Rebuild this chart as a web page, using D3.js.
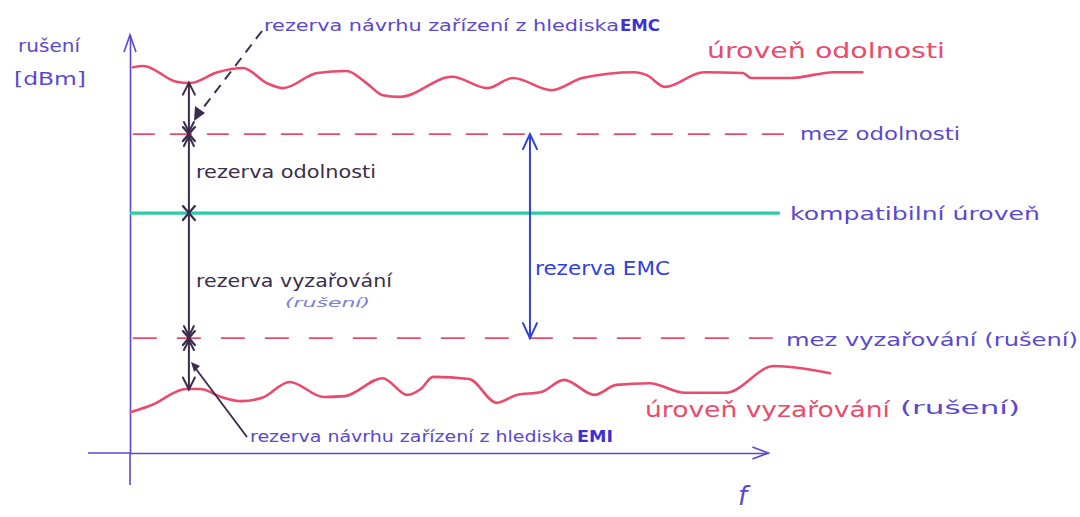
<!DOCTYPE html>
<html><head><meta charset="utf-8">
<script src="https://cdn.jsdelivr.net/npm/d3@7"></script>
<style>body{margin:0;background:#fff}svg{display:block}</style>
</head><body>
<svg id="c" width="1080" height="517"></svg>
<script>
// ---- data (frequency in arbitrary units, level in arbitrary dB units) ----
const immunityF  = [0.3,1.4,4.9,6.3,9.2,11.9,14.4,16.1,19.7,22.8,24.9,26.6,28.4,33.9,37.6,40.3,44.4,47.6,53.1,54.4,56.3,60.4,64.5,65.4,69.5,74.1,77.1];
const immunityDb = [92.3,92.6,88.8,88.5,91.1,92.1,88.5,87.3,90.9,91.4,88.5,85.6,85.2,90.0,87.3,89.7,86.8,89.7,91.1,90.4,87.6,91.1,90.9,89.7,89.7,91.1,91.1];
const emissionF  = [0.1,2.3,5.9,7.4,9.6,11.7,13.9,16.8,20.4,22.6,26.6,29.2,30.6,31.9,35.7,38.6,40.7,43.3,45.7,48.9,51.2,54.7,58.4,62.7,67.8,73.7];
const emissionDb = [9.8,11.5,15.3,15.3,13.4,12.4,13.2,17.0,13.4,13.6,17.9,13.9,15.3,18.2,17.7,12.0,13.9,14.6,17.5,13.9,16.3,16.7,14.4,14.4,20.8,19.1];
const immunityLimit = 76.3;
const compatibleLevel = 57.4;
const emissionLimit = 27.5;
const levelEndF = 68.4;
const marginF = 6.2;      // frequency where the margins are marked
const emcMarginF = 42.1;  // frequency of the EMC margin arrow
const labels = {
  yTitle1: "rušení", yTitle2: "[dBm]", xTitle: "f",
  immunityLevel: "úroveň odolnosti", immunityLimit: "mez odolnosti",
  compatible: "kompatibilní úroveň", emissionLimit: "mez vyzařování (rušení)",
  emissionLevel: "úroveň vyzařování", emissionLevel2: "(rušení)",
  immMargin: "rezerva odolnosti", emiMargin: "rezerva vyzařování", emiMargin2: "(rušení)",
  emcMargin: "rezerva EMC",
  designEMC: "rezerva návrhu zařízení z hlediska ", designEMCb: "EMC",
  designEMI: "rezerva návrhu zařízení z hlediska", designEMIb: "EMI"
};

// ---- scales ----
const x = d3.scaleLinear().domain([0,100]).range([130,1080]);
const y = d3.scaleLinear().domain([0,100]).range([453,35]);
const svg = d3.select("#c");
const FONT = "'DejaVu Sans', sans-serif";
const BLUE = "#5a48d0", RED = "#ea4a6c", TEAL = "#2ccaa6", DARK = "#3b2c4c", EMCBLUE = "#3040e0";

// ---- axes ----
const yAxis = d3.axisLeft(y).ticks(0).tickSize(0).tickSizeOuter(0);
svg.append("g").attr("transform",`translate(${x(0)},0)`).call(yAxis)
  .call(g=>g.select(".domain").attr("stroke",BLUE).attr("stroke-width",1.6));
svg.append("line").attr("x1",x(0)).attr("x2",x(0)).attr("y1",y(0)).attr("y2",y(0)+32)
  .attr("stroke",BLUE).attr("stroke-width",1.6);
svg.append("path").attr("d",`M${x(0)-6},${y(100)+17}L${x(0)},${y(100)}L${x(0)+6},${y(100)+17}`)
  .attr("fill","none").attr("stroke",BLUE).attr("stroke-width",1.6);
const xEnd = 67.2;
const xAxisScale = d3.scaleLinear().domain([0,xEnd]).range([x(0),x(xEnd)]);
svg.append("g").attr("transform",`translate(0,${y(0)})`).call(d3.axisBottom(xAxisScale).ticks(0).tickSize(0).tickSizeOuter(0))
  .call(g=>g.select(".domain").attr("stroke",BLUE).attr("stroke-width",1.6));
svg.append("line").attr("x1",x(0)-42).attr("x2",x(0)).attr("y1",y(0)).attr("y2",y(0))
  .attr("stroke",BLUE).attr("stroke-width",1.6);
svg.append("path").attr("d",`M${x(xEnd)-16},${y(0)-6}L${x(xEnd)},${y(0)}L${x(xEnd)-16},${y(0)+6}`)
  .attr("fill","none").attr("stroke",BLUE).attr("stroke-width",1.6);

// ---- level lines ----
const line = d3.line().x(d=>x(d[0])).y(d=>y(d[1])).curve(d3.curveMonotoneX);
svg.append("path").datum(d3.zip(immunityF, immunityDb)).attr("d",line)
  .attr("fill","none").attr("stroke",RED).attr("stroke-width",2.6).attr("stroke-linecap","round");
svg.append("path").datum(d3.zip(emissionF, emissionDb)).attr("d",line)
  .attr("fill","none").attr("stroke",RED).attr("stroke-width",2.6).attr("stroke-linecap","round");

svg.append("line").attr("x1",x(0.3)).attr("x2",x(levelEndF+1.1)).attr("y1",y(immunityLimit)).attr("y2",y(immunityLimit))
  .attr("stroke",RED).attr("stroke-width",1.7).attr("stroke-dasharray","22,15");
svg.append("line").attr("x1",x(0.3)).attr("x2",x(levelEndF)).attr("y1",y(emissionLimit)).attr("y2",y(emissionLimit))
  .attr("stroke",RED).attr("stroke-width",1.7).attr("stroke-dasharray","24,20");
svg.append("line").attr("x1",x(0)).attr("x2",x(levelEndF)).attr("y1",y(compatibleLevel)).attr("y2",y(compatibleLevel))
  .attr("stroke",TEAL).attr("stroke-width",3.2);

// ---- margins (black arrow) ----
const mx = x(marginF);
const topY = y(88.6), botY = y(15.2);
svg.append("line").attr("x1",mx).attr("x2",mx).attr("y1",topY).attr("y2",botY).attr("stroke",DARK).attr("stroke-width",2);
function chevron(cx, cy, dir, col, w=6, h=12){ // dir -1 = up, 1 = down
  svg.append("path").attr("d",`M${cx-w},${cy-dir*h}L${cx},${cy}L${cx+w},${cy-dir*h}`)
    .attr("fill","none").attr("stroke",col).attr("stroke-width",2).attr("stroke-linecap","round");
}
function cross(cx, cy){
  svg.append("path").attr("d",`M${cx-6},${cy-7}L${cx+6},${cy+7}M${cx+6},${cy-7}L${cx-6},${cy+7}`)
    .attr("stroke",DARK).attr("stroke-width",2.2).attr("stroke-linecap","round");
}
chevron(mx, topY, -1, DARK);
chevron(mx, y(immunityLimit)-2, 1, DARK, 5, 10);
chevron(mx, y(immunityLimit)+2, -1, DARK, 5, 10);
chevron(mx, y(emissionLimit)-2, 1, DARK, 5, 10);
chevron(mx, y(emissionLimit)+2, -1, DARK, 5, 10);
chevron(mx, botY, 1, DARK);
[immunityLimit, compatibleLevel, emissionLimit].forEach(v=>cross(mx, y(v)));

// ---- EMC margin (blue arrow) ----
const ex = x(emcMarginF);
svg.append("line").attr("x1",ex).attr("x2",ex).attr("y1",y(immunityLimit)).attr("y2",y(emissionLimit))
  .attr("stroke",EMCBLUE).attr("stroke-width",2);
chevron(ex, y(immunityLimit), -1, EMCBLUE, 7, 15);
chevron(ex, y(emissionLimit), 1, EMCBLUE, 7, 15);

// ---- leader lines ----
svg.append("line").attr("x1",262).attr("y1",31).attr("x2",200).attr("y2",112)
  .attr("stroke",DARK).attr("stroke-width",2).attr("stroke-dasharray","10,7");
svg.append("path").attr("d","M194,121L195,106L205,113Z").attr("fill",DARK);
svg.append("line").attr("x1",196).attr("y1",369).attr("x2",247).attr("y2",437)
  .attr("stroke",DARK).attr("stroke-width",1.8);
svg.append("path").attr("d","M191,362L200,366L194,372Z").attr("fill",DARK);

// ---- texts ----
function txt(t, px, py, size, col, opts={}){
  const el = svg.append("text").attr("x",px).attr("y",py).text(t)
    .attr("font-family",FONT).attr("font-size",size).attr("fill",col);
  if(opts.len) el.attr("textLength",opts.len).attr("lengthAdjust","spacingAndGlyphs");
  if(opts.weight) el.attr("font-weight",opts.weight);
  if(opts.style) el.attr("font-style",opts.style);
  return el;
}
txt(labels.yTitle1, 18, 52, 18, BLUE, {len:62});
txt(labels.yTitle2, 14, 85, 18, BLUE, {len:72});
txt(labels.xTitle, 738, 505, 26, BLUE, {style:"italic"});
txt(labels.immunityLevel, 707, 58, 22, RED, {len:238});
txt(labels.immunityLimit, 800, 140, 17, BLUE, {len:160});
txt(labels.compatible, 790, 220, 18, BLUE, {len:250});
txt(labels.emissionLimit, 786, 346, 18, BLUE, {len:292});
txt(labels.emissionLevel, 645, 417, 22, RED, {len:245});
txt(labels.emissionLevel2, 900, 414, 18, BLUE, {len:120});
txt(labels.immMargin, 196, 178, 18, DARK, {len:180});
txt(labels.emiMargin, 196, 287, 18, DARK, {len:196});
txt(labels.emiMargin2, 285, 307, 13, "#7a80d8", {len:85, style:"italic"});
txt(labels.emcMargin, 535, 275, 20, EMCBLUE, {len:135});
txt(labels.designEMC, 264, 31, 15, BLUE, {len:355});
txt(labels.designEMCb, 620, 31, 15, "#4030d0", {len:40, weight:"bold"});
txt(labels.designEMI, 250, 442, 15, BLUE, {len:324});
txt(labels.designEMIb, 577, 442, 15, "#4030d0", {len:36, weight:"bold"});
</script>
</body></html>
